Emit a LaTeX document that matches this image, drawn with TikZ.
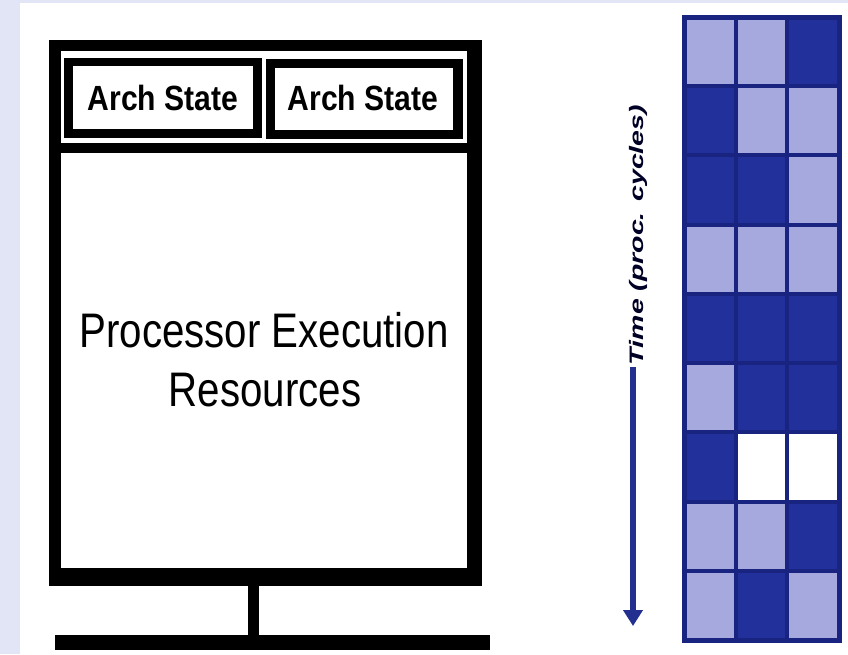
\documentclass[tikz,border=0pt]{standalone}
\usepackage{fontspec}
\setmainfont{Liberation Sans}
\newfontfamily\archfont[FakeStretch=0.86]{Liberation Sans}
\newfontfamily\narrowfont[FakeStretch=0.83]{Liberation Sans}
\newfontfamily\timefont[FakeStretch=1.46]{Liberation Sans}
\usetikzlibrary{arrows.meta}

\definecolor{pagebg}{HTML}{E1E5F6}
\definecolor{cL}{HTML}{A6A9DD}
\definecolor{cD}{HTML}{21309B}
\definecolor{cW}{HTML}{FFFFFF}
\definecolor{gridnavy}{HTML}{182480}
\definecolor{arrownavy}{HTML}{24308F}

\tikzset{
  archtext/.style={anchor=base, inner sep=0pt, font=\archfont\bfseries\fontsize{35}{35}\selectfont},
  restext/.style={anchor=base, inner sep=0pt, font=\narrowfont\fontsize{48.5}{48.5}\selectfont},
  timetext/.style={anchor=base, inner sep=0pt, rotate=90, text=black!85!blue,
    font=\timefont\bfseries\itshape\fontsize{19.5}{19.5}\selectfont},
  gridline/.style={draw=gridnavy, line width=4pt},
  timearrow/.style={draw=arrownavy, line width=6pt,
    -{Triangle[width=19pt,length=16pt]}},
}

\begin{document}
\begin{tikzpicture}[x=1pt,y=-1pt]
\useasboundingbox (0,0) rectangle (848,654);

% page backdrop and white panel
\fill[pagebg] (0,0) rectangle (848,654);
\fill[white] (20,3) rectangle (848,654);

% processor frame
\fill[black] (49,40) rectangle (482,586);
\fill[white] (61,51) rectangle (467,568);

% two architectural state boxes
\fill[black] (64,58) rectangle (262,138);
\fill[white] (73,66) rectangle (253,129);
\fill[black] (266,59) rectangle (463,139);
\fill[white] (275,68) rectangle (453,130);

% separator under the state boxes
\fill[black] (61,143) rectangle (467,153);

% stand and base
\fill[black] (248,586) rectangle (259,635);
\fill[black] (55,635) rectangle (490,650);

% labels
\node[archtext] (arch1) at (163,110) {Arch State};
\node[archtext] (arch2) at (363,110) {Arch State};
\node[restext] (res1) at (264,347) {Processor Execution};
\node[restext] (res2) at (265,406) {Resources};

% issue-slot grid: rows are cycles, columns are slots
\foreach \r/\a/\b/\c in {0/L/L/D, 1/D/L/L, 2/D/D/L, 3/L/L/L, 4/D/D/D,
                         5/L/D/D, 6/D/W/W, 7/L/L/D, 8/L/D/L} {
  \fill[c\a] (684,{17+\r*69.22}) rectangle ++(51.67,69.22);
  \fill[c\b] (735.67,{17+\r*69.22}) rectangle ++(51.67,69.22);
  \fill[c\c] (787.33,{17+\r*69.22}) rectangle ++(51.67,69.22);
}
\foreach \r in {1,...,8}
  \draw[gridline] (684,{17+\r*69.22}) -- (839,{17+\r*69.22});
\draw[gridline] (735.67,17) -- (735.67,640);
\draw[gridline] (787.33,17) -- (787.33,640);
\draw[gridline, line width=5pt] (684,17) rectangle (839,640);

% time axis
\node[timetext] (timelabel) at (643,235) {Time (proc. cycles)};
\coordinate (tstart) at (633,367);
\coordinate (tend) at (633,626);
\draw[timearrow] (tstart) -- (tend);
\end{tikzpicture}
\end{document}
